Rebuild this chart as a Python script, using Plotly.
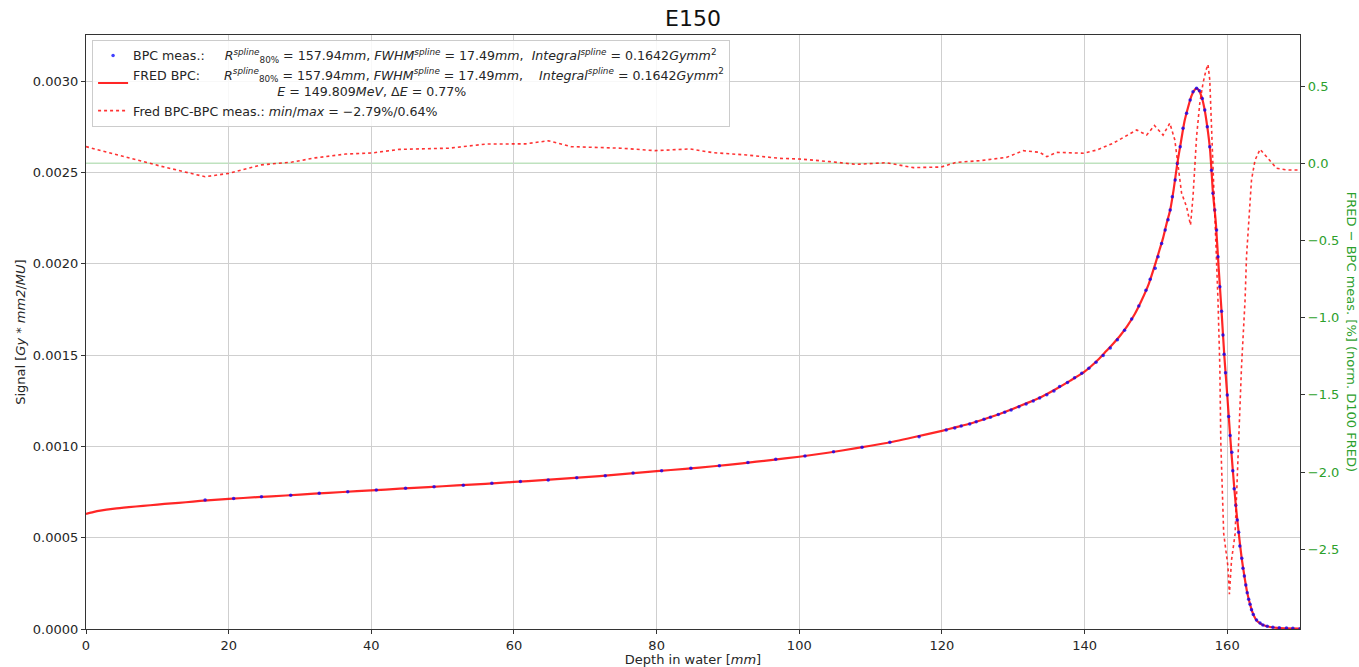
import plotly.graph_objects as go

# ---------------- data ----------------
fred_depth = [0, 1, 2, 4, 6, 8, 10, 12, 14, 16, 18, 20, 24, 28, 32, 36, 40, 44, 48, 52,
              56, 60, 64, 68, 72, 76, 80, 84, 88, 92, 96, 100, 104, 108, 112, 116, 120,
              122, 124, 126, 128, 130, 132, 134, 136, 138, 140, 142, 143, 144, 145, 146,
              147, 148, 149, 150, 150.5, 151, 151.5, 152, 152.5, 153, 153.5, 154, 154.5,
              155, 155.4, 155.7, 156.0, 156.4, 156.8, 157.2, 157.6, 158.0, 158.4, 158.8,
              159.2, 159.6, 160.0, 160.4, 160.8, 161.2, 161.6, 162.0, 162.4, 162.8, 163.2,
              163.6, 164.0, 164.5, 165.0, 166.0, 167.0, 168.0, 170.2]
fred_signal = [0.000630, 0.000640, 0.000648, 0.000659, 0.000667, 0.000674, 0.000681,
               0.000688, 0.000694, 0.000701, 0.000707, 0.000712, 0.000722, 0.000731,
               0.000741, 0.000750, 0.000759, 0.000768, 0.000777, 0.000786, 0.000795,
               0.000805, 0.000815, 0.000826, 0.000837, 0.000851, 0.000864, 0.000877,
               0.000891, 0.000907, 0.000925, 0.000943, 0.000965, 0.000990, 0.001017,
               0.001050, 0.001085, 0.001105, 0.001125, 0.001150, 0.001176, 0.001206,
               0.001238, 0.001272, 0.001314, 0.001360, 0.001409, 0.001478, 0.001520,
               0.001562, 0.001607, 0.001660, 0.001722, 0.001800, 0.001890, 0.002010,
               0.002075, 0.002140, 0.002220, 0.002294, 0.002410, 0.002549, 0.002665,
               0.002778, 0.002855, 0.002920, 0.002950, 0.002960, 0.002950, 0.002915,
               0.002850, 0.002750, 0.002620, 0.002385, 0.002225, 0.001975, 0.001740,
               0.001490, 0.001281, 0.001060, 0.000860, 0.000677, 0.000529, 0.000395,
               0.000290, 0.000199, 0.000135, 0.000085, 0.000053, 0.000033, 0.000022,
               0.000011, 0.000006, 0.000004, 0.000002]

meas_depth = [16.7, 20.7, 24.6, 28.7, 32.7, 36.7, 40.7, 44.8, 48.8, 52.9, 56.9, 60.9, 64.8,
              68.8, 72.8, 76.7, 80.7, 84.8, 88.8, 92.8, 96.7, 100.8, 104.8, 108.8, 112.7,
              116.8, 120.6, 121.8, 122.7, 123.9, 124.8, 125.9, 126.8, 127.9, 128.8, 129.7,
              130.8, 131.8, 132.8, 133.7, 134.7, 135.7, 136.5, 137.6, 138.6, 139.6, 140.6,
              141.6, 142.6, 143.6, 144.6, 145.6, 146.6, 147.6, 148.6, 149.2, 149.9, 150.3,
              150.8, 151.3, 151.7, 152.0, 152.3, 152.7, 153.0, 153.4, 153.8, 154.3, 154.8,
              155.2, 155.7, 156.1, 156.5, 156.85, 157.2, 157.55, 157.8, 158.0, 158.25,
              158.5, 158.7, 158.96, 159.2, 159.4, 159.56, 159.76, 160.0, 160.2, 160.4,
              160.64, 160.78, 160.97, 161.2, 161.4, 161.6, 161.76, 162.04, 162.2, 162.4,
              162.6, 162.8, 163.0, 163.2, 163.4, 163.65, 164.1, 164.6, 165.0, 165.6, 166.4,
              167.3, 168.3, 169.2, 170.2]
meas_signal = [0.000706, 0.000714, 0.000724, 0.000732, 0.000743, 0.000752, 0.000761,
               0.000770, 0.000779, 0.000787, 0.000798, 0.000808, 0.000816, 0.000828,
               0.000839, 0.000854, 0.000867, 0.000880, 0.000894, 0.000911, 0.000929,
               0.000947, 0.000971, 0.000995, 0.001022, 0.001053, 0.001089, 0.001100,
               0.001111, 0.001122, 0.001135, 0.001148, 0.001159, 0.001175, 0.001186,
               0.001199, 0.001217, 0.001232, 0.001248, 0.001265, 0.001283, 0.001303,
               0.001327, 0.001350, 0.001375, 0.001400, 0.001428, 0.001460, 0.001497,
               0.001538, 0.001583, 0.001635, 0.001697, 0.001768, 0.001855, 0.001915,
               0.001975, 0.002038, 0.002111, 0.002184, 0.002240, 0.002294, 0.002367,
               0.002458, 0.002549, 0.002640, 0.002741, 0.002823, 0.002896, 0.002941,
               0.002960, 0.002947, 0.002905, 0.002841, 0.002750, 0.002640, 0.002512,
               0.002385, 0.002294, 0.002184, 0.002038, 0.001874, 0.001740, 0.001610,
               0.001504, 0.001403, 0.001281, 0.001164, 0.001060, 0.000967, 0.000867,
               0.000768, 0.000677, 0.000597, 0.000529, 0.000454, 0.000387, 0.000332,
               0.000290, 0.000241, 0.000199, 0.000163, 0.000135, 0.000106, 0.000080,
               0.000049, 0.000033, 0.000022, 0.000015, 0.000010, 0.000007, 0.000005,
               0.000004, 0.000002]

diff_depth = [0, 5.2, 10.6, 16.7, 20, 24.6, 28.9, 32.1, 36.4, 40.1, 43.9, 50.9, 56.2, 61.6,
              64.8, 68, 75, 79.8, 83.3, 84.7, 87.9, 92.6, 97.3, 100, 104.3, 108.0, 112.2,
              116.0, 119.9, 122.0, 125.3, 129.1, 131.4, 133.7, 134.7, 136.1, 139.9, 141.7,
              144.0, 147.3, 148.7, 149.8, 151.0, 151.95, 152.65, 153.1, 153.6, 154.3,
              154.85, 155.2, 155.7, 156.15, 156.6, 157.0, 157.3, 157.55, 157.8, 158.0,
              158.5, 158.7, 158.96, 159.1, 159.5, 159.8, 160.1, 160.3, 160.6, 161.1, 161.5,
              162.0, 162.5, 162.7, 163.4, 163.9, 164.6, 165.5, 166.9, 168.3, 170.2]
diff_pct = [0.108, 0.045, -0.020, -0.087, -0.065, -0.010, 0.008, 0.035, 0.060, 0.067,
            0.090, 0.098, 0.125, 0.126, 0.146, 0.108, 0.098, 0.082, 0.091, 0.093, 0.069,
            0.054, 0.032, 0.028, 0.011, -0.007, 0.004, -0.028, -0.024, 0.006, 0.017,
            0.039, 0.082, 0.071, 0.043, 0.071, 0.065, 0.086, 0.130, 0.216, 0.183, 0.245,
            0.183, 0.260, 0.151, 0.000, -0.194, -0.281, -0.400, -0.216, 0.172, 0.389,
            0.518, 0.600, 0.640, 0.540, 0.237, -0.087, -0.626, -0.885, -1.317, -1.813,
            -2.396, -2.504, -2.612, -2.790, -2.570, -2.400, -1.857, -1.317, -0.885,
            -0.605, -0.108, 0.021, 0.091, 0.043, -0.032, -0.043, -0.043]

x_ticks = [0, 20, 40, 60, 80, 100, 120, 140, 160]
y_ticks = [0.0, 0.0005, 0.0010, 0.0015, 0.0020, 0.0025, 0.0030]
y2_ticks = [0.5, 0.0, -0.5, -1.0, -1.5, -2.0, -2.5]

# ---------------- figure ----------------
NB = "\u00a0"
FONT = "DejaVu Sans"
GREEN = "#2ca02c"
TXT = "#262626"

name_meas = ("BPC meas.:" + NB * 5 + "<i>R</i><sup><i>spline</i></sup><sub>80%</sub> = 157.94<i>mm</i>, "
             "<i>FWHM<sup>spline</sup></i> = 17.49<i>mm</i>," + NB * 2 +
             "<i>Integral<sup>spline</sup></i> = 0.1642<i>Gymm</i><sup>2</sup>")
name_fred = ("FRED BPC:" + NB * 6 + "<i>R</i><sup><i>spline</i></sup><sub>80%</sub> = 157.94<i>mm</i>, "
             "<i>FWHM<sup>spline</sup></i> = 17.49<i>mm</i>," + NB * 4 +
             "<i>Integral<sup>spline</sup></i> = 0.1642<i>Gymm</i><sup>2</sup><br>" + NB * 36 +
             "<i>E</i> = 149.809<i>MeV</i>, Δ<i>E</i> = 0.77%")
name_diff = "Fred BPC-BPC meas.: <i>min</i>/<i>max</i> = −2.79%/0.64%"

fig = go.Figure()

fig.add_trace(go.Scatter(
    x=fred_depth, y=fred_signal, mode="lines", name=name_fred, legendrank=2,
    line=dict(color="rgba(255,0,0,0.85)", width=2.2, shape="spline", smoothing=0.5), yaxis="y"))

fig.add_trace(go.Scatter(
    x=meas_depth, y=meas_signal, mode="markers", name=name_meas, legendrank=1,
    marker=dict(color="#0000ff", size=3.5, opacity=0.75), yaxis="y"))

fig.add_trace(go.Scatter(
    x=diff_depth, y=diff_pct, mode="lines", name=name_diff, legendrank=3,
    line=dict(color="rgba(255,0,0,0.8)", width=1.6, dash="dot"), yaxis="y2"))

fig.add_shape(type="line", xref="paper", x0=0, x1=1, yref="y2", y0=0, y1=0,
              line=dict(color="rgba(44,160,44,0.3)", width=1.5), layer="below")

axis_common = dict(showline=True, linecolor="#333333", linewidth=1.3, ticks="outside",
                   ticklen=4, tickcolor="#333333", automargin=False,
                   tickfont=dict(family=FONT, size=13, color=TXT))

fig.update_layout(
    width=1359, height=667,
    margin=dict(l=86, r=59, t=35, b=38),
    paper_bgcolor="white", plot_bgcolor="white",
    font=dict(family=FONT, size=13, color=TXT),
    title=dict(text="E150", x=0.5, xref="paper", xanchor="center", y=0.972, yref="container",
               yanchor="middle", font=dict(family=FONT, size=22, color="#111")),
    xaxis=dict(range=[0, 170.2], tickvals=x_ticks, showgrid=True, gridcolor="#cfcfcf",
               gridwidth=1, zeroline=False, mirror=True,
               title=dict(text="Depth in water [<i>mm</i>]", font=dict(family=FONT, size=13)),
               **axis_common),
    yaxis=dict(range=[0, 0.003252], tickvals=y_ticks, tickformat=".4f", showgrid=True,
               gridcolor="#cfcfcf", gridwidth=1, zeroline=False,
               **axis_common),
    yaxis2=dict(range=[-3.016, 0.831], tickvals=y2_ticks, tickformat=".1f", overlaying="y",
                side="right", showgrid=False, zeroline=False, automargin=False,
                showline=True, linecolor="#333333", linewidth=1.3, ticks="outside",
                ticklen=4, tickcolor="#333333",
                tickfont=dict(family=FONT, size=13, color=GREEN)),
    showlegend=True,
    legend=dict(x=0.005, y=0.992, xanchor="left", yanchor="top", bgcolor="rgba(255,255,255,0.85)",
                bordercolor="#cccccc", borderwidth=1, font=dict(family=FONT, size=12.6, color=TXT),
                itemwidth=30),
)

fig.add_annotation(text="Signal [<i>Gy</i> * <i>mm2</i>/<i>MU</i>]", xref="paper", yref="paper",
                   x=-0.0545, y=0.5, xanchor="center", yanchor="middle", textangle=-90,
                   showarrow=False, font=dict(family=FONT, size=13, color=TXT))

fig.add_annotation(text="FRED − BPC meas. [%] (norm. D100 FRED)", xref="paper", yref="paper",
                   x=1.043, y=0.5, xanchor="center", yanchor="middle", textangle=90,
                   showarrow=False, font=dict(family=FONT, size=13, color=GREEN))

fig.write_html("out.html", config={"displayModeBar": False},
               post_script="document.body.style.margin='0';document.body.style.padding='0';")
